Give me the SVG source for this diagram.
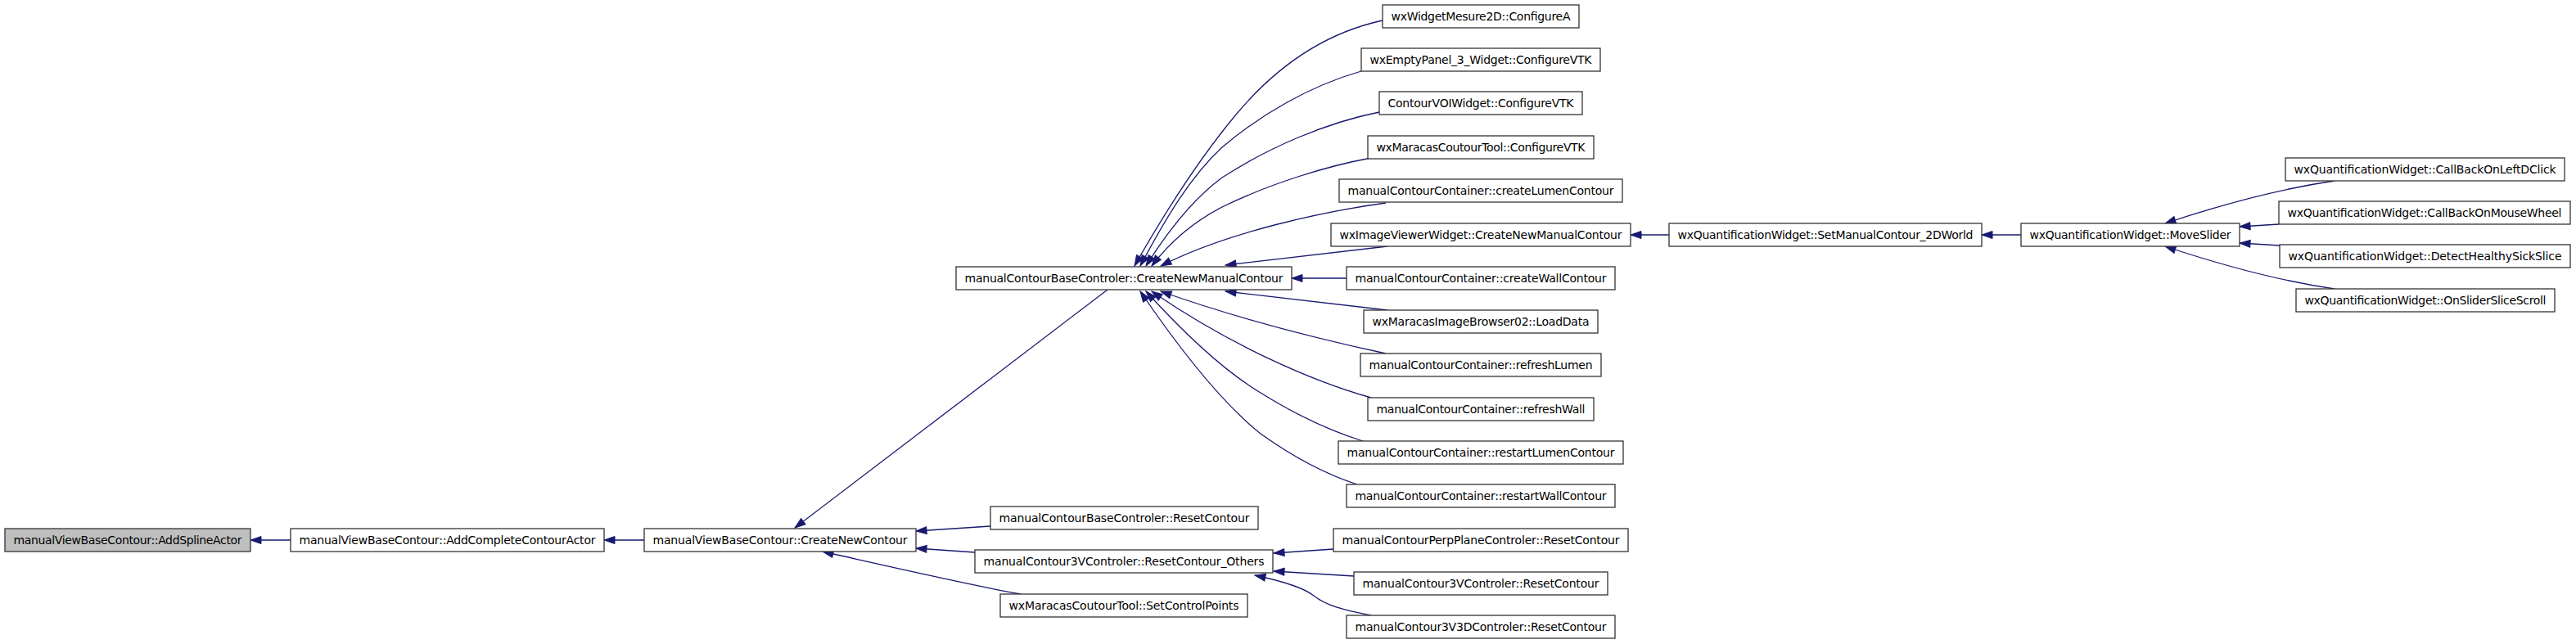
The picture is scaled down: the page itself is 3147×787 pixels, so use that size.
<svg xmlns="http://www.w3.org/2000/svg" width="3147" height="787" viewBox="0 0 3147 787">
<style>
.n rect{fill:#ffffff;stroke:#333333;stroke-width:1.3}
.n.root rect{fill:#bfbfbf}
.n text{font-family:"DejaVu Sans","Liberation Sans",sans-serif;font-size:14px;fill:#000000;text-anchor:middle}
.e path{fill:none;stroke:#191970;stroke-width:1.3;marker-end:url(#ah)}
</style>
<defs>
<marker id="ah" markerUnits="userSpaceOnUse" markerWidth="16" markerHeight="12" viewBox="0 -6 14 12" refX="13" refY="0" orient="auto">
<path d="M0,-4.5 L13,0 L0,4.5 z" fill="#191970" stroke="#191970" stroke-width="1"/>
</marker>
</defs>
<rect width="3147" height="787" fill="#ffffff"/>
<g id="edges" class="e">
<path d="M355,660 L306,660"/>
<path d="M787,660 L738,660"/>
<path d="M1353,354 L971,645"/>
<path d="M1210,643 L1119,649"/>
<path d="M1191,675 L1119,670"/>
<path d="M1247,726 C1190,716 1090,693 1005,674"/>
<path d="M1629,671 L1556,676"/>
<path d="M1654,704 C1620,702 1590,700 1556,698"/>
<path d="M1675,752 C1640,745 1620,740 1605,728 C1595,720 1575,712 1533,703"/>
<path d="M1689,25 C1620,40 1560,80 1510,140 C1460,200 1420,265 1386,325"/>
<path d="M1663,87 C1600,105 1540,140 1493,180 C1455,215 1425,265 1393,325"/>
<path d="M1685,137 C1620,150 1550,180 1493,217 C1455,245 1425,285 1400,325"/>
<path d="M1675,193 C1620,203 1550,225 1493,253 C1460,270 1430,295 1407,325"/>
<path d="M1693,248 C1620,258 1500,283 1418,325"/>
<path d="M1695,301 L1497,324"/>
<path d="M1645,340 L1578,340"/>
<path d="M1695,379 L1497,356"/>
<path d="M1693,432 C1600,412 1500,385 1418,356"/>
<path d="M1675,486 C1600,465 1500,420 1407,356"/>
<path d="M1665,539 C1620,525 1580,505 1540,480 C1490,450 1440,400 1400,356"/>
<path d="M1658,592 C1615,578 1575,555 1540,530 C1490,490 1440,425 1393,356"/>
<path d="M2039,287 L1992,287"/>
<path d="M2469,287 L2421,287"/>
<path d="M2852,221 C2790,230 2720,248 2645,273"/>
<path d="M2784,274 L2736,277"/>
<path d="M2785,300 L2736,297"/>
<path d="M2852,353 C2790,344 2720,326 2645,301"/>
</g>
<g id="n1" class="n root"><rect x="6" y="646" width="300" height="28"/><text x="156" y="665" textLength="279">manualViewBaseContour::AddSplineActor</text></g>
<g id="n2" class="n"><rect x="355" y="646" width="383" height="28"/><text x="546.5" y="665" textLength="362">manualViewBaseContour::AddCompleteContourActor</text></g>
<g id="n3" class="n"><rect x="787" y="646" width="332" height="28"/><text x="953" y="665" textLength="311">manualViewBaseContour::CreateNewContour</text></g>
<g id="n4" class="n"><rect x="1168" y="326" width="410" height="28"/><text x="1373" y="345" textLength="389">manualContourBaseControler::CreateNewManualContour</text></g>
<g id="n5" class="n"><rect x="1210" y="619" width="327" height="28"/><text x="1373.5" y="638" textLength="306">manualContourBaseControler::ResetContour</text></g>
<g id="n6" class="n"><rect x="1191" y="672" width="364" height="28"/><text x="1373" y="691" textLength="343">manualContour3VControler::ResetContour_Others</text></g>
<g id="n7" class="n"><rect x="1222" y="726" width="302" height="28"/><text x="1373" y="745" textLength="281">wxMaracasCoutourTool::SetControlPoints</text></g>
<g id="n8" class="n"><rect x="1689" y="6" width="240" height="28"/><text x="1809" y="25" textLength="219">wxWidgetMesure2D::ConfigureA</text></g>
<g id="n9" class="n"><rect x="1663" y="59" width="292" height="28"/><text x="1809" y="78" textLength="271">wxEmptyPanel_3_Widget::ConfigureVTK</text></g>
<g id="n10" class="n"><rect x="1685" y="112" width="248" height="28"/><text x="1809" y="131" textLength="227">ContourVOIWidget::ConfigureVTK</text></g>
<g id="n11" class="n"><rect x="1671" y="166" width="276" height="28"/><text x="1809" y="185" textLength="255">wxMaracasCoutourTool::ConfigureVTK</text></g>
<g id="n12" class="n"><rect x="1636" y="219" width="346" height="28"/><text x="1809" y="238" textLength="325">manualContourContainer::createLumenContour</text></g>
<g id="n13" class="n"><rect x="1626" y="273" width="366" height="28"/><text x="1809" y="292" textLength="345">wxImageViewerWidget::CreateNewManualContour</text></g>
<g id="n14" class="n"><rect x="1645" y="326" width="328" height="28"/><text x="1809" y="345" textLength="307">manualContourContainer::createWallContour</text></g>
<g id="n15" class="n"><rect x="1666" y="379" width="286" height="28"/><text x="1809" y="398" textLength="265">wxMaracasImageBrowser02::LoadData</text></g>
<g id="n16" class="n"><rect x="1662" y="432" width="294" height="28"/><text x="1809" y="451" textLength="273">manualContourContainer::refreshLumen</text></g>
<g id="n17" class="n"><rect x="1671" y="486" width="276" height="28"/><text x="1809" y="505" textLength="255">manualContourContainer::refreshWall</text></g>
<g id="n18" class="n"><rect x="1635" y="539" width="348" height="28"/><text x="1809" y="558" textLength="327">manualContourContainer::restartLumenContour</text></g>
<g id="n19" class="n"><rect x="1645" y="592" width="328" height="28"/><text x="1809" y="611" textLength="307">manualContourContainer::restartWallContour</text></g>
<g id="n20" class="n"><rect x="1629" y="646" width="360" height="28"/><text x="1809" y="665" textLength="339">manualContourPerpPlaneControler::ResetContour</text></g>
<g id="n21" class="n"><rect x="1654" y="699" width="310" height="28"/><text x="1809" y="718" textLength="289">manualContour3VControler::ResetContour</text></g>
<g id="n22" class="n"><rect x="1645" y="752" width="328" height="28"/><text x="1809" y="771" textLength="307">manualContour3V3DControler::ResetContour</text></g>
<g id="n23" class="n"><rect x="2039" y="273" width="382" height="28"/><text x="2230" y="292" textLength="361">wxQuantificationWidget::SetManualContour_2DWorld</text></g>
<g id="n24" class="n"><rect x="2469" y="273" width="267" height="28"/><text x="2602.5" y="292" textLength="246">wxQuantificationWidget::MoveSlider</text></g>
<g id="n25" class="n"><rect x="2792" y="193" width="341" height="28"/><text x="2962.5" y="212" textLength="320">wxQuantificationWidget::CallBackOnLeftDClick</text></g>
<g id="n26" class="n"><rect x="2784" y="246" width="356" height="28"/><text x="2962" y="265" textLength="335">wxQuantificationWidget::CallBackOnMouseWheel</text></g>
<g id="n27" class="n"><rect x="2785" y="299" width="355" height="28"/><text x="2962.5" y="318" textLength="334">wxQuantificationWidget::DetectHealthySickSlice</text></g>
<g id="n28" class="n"><rect x="2805" y="353" width="316" height="28"/><text x="2963" y="372" textLength="295">wxQuantificationWidget::OnSliderSliceScroll</text></g>
</svg>
